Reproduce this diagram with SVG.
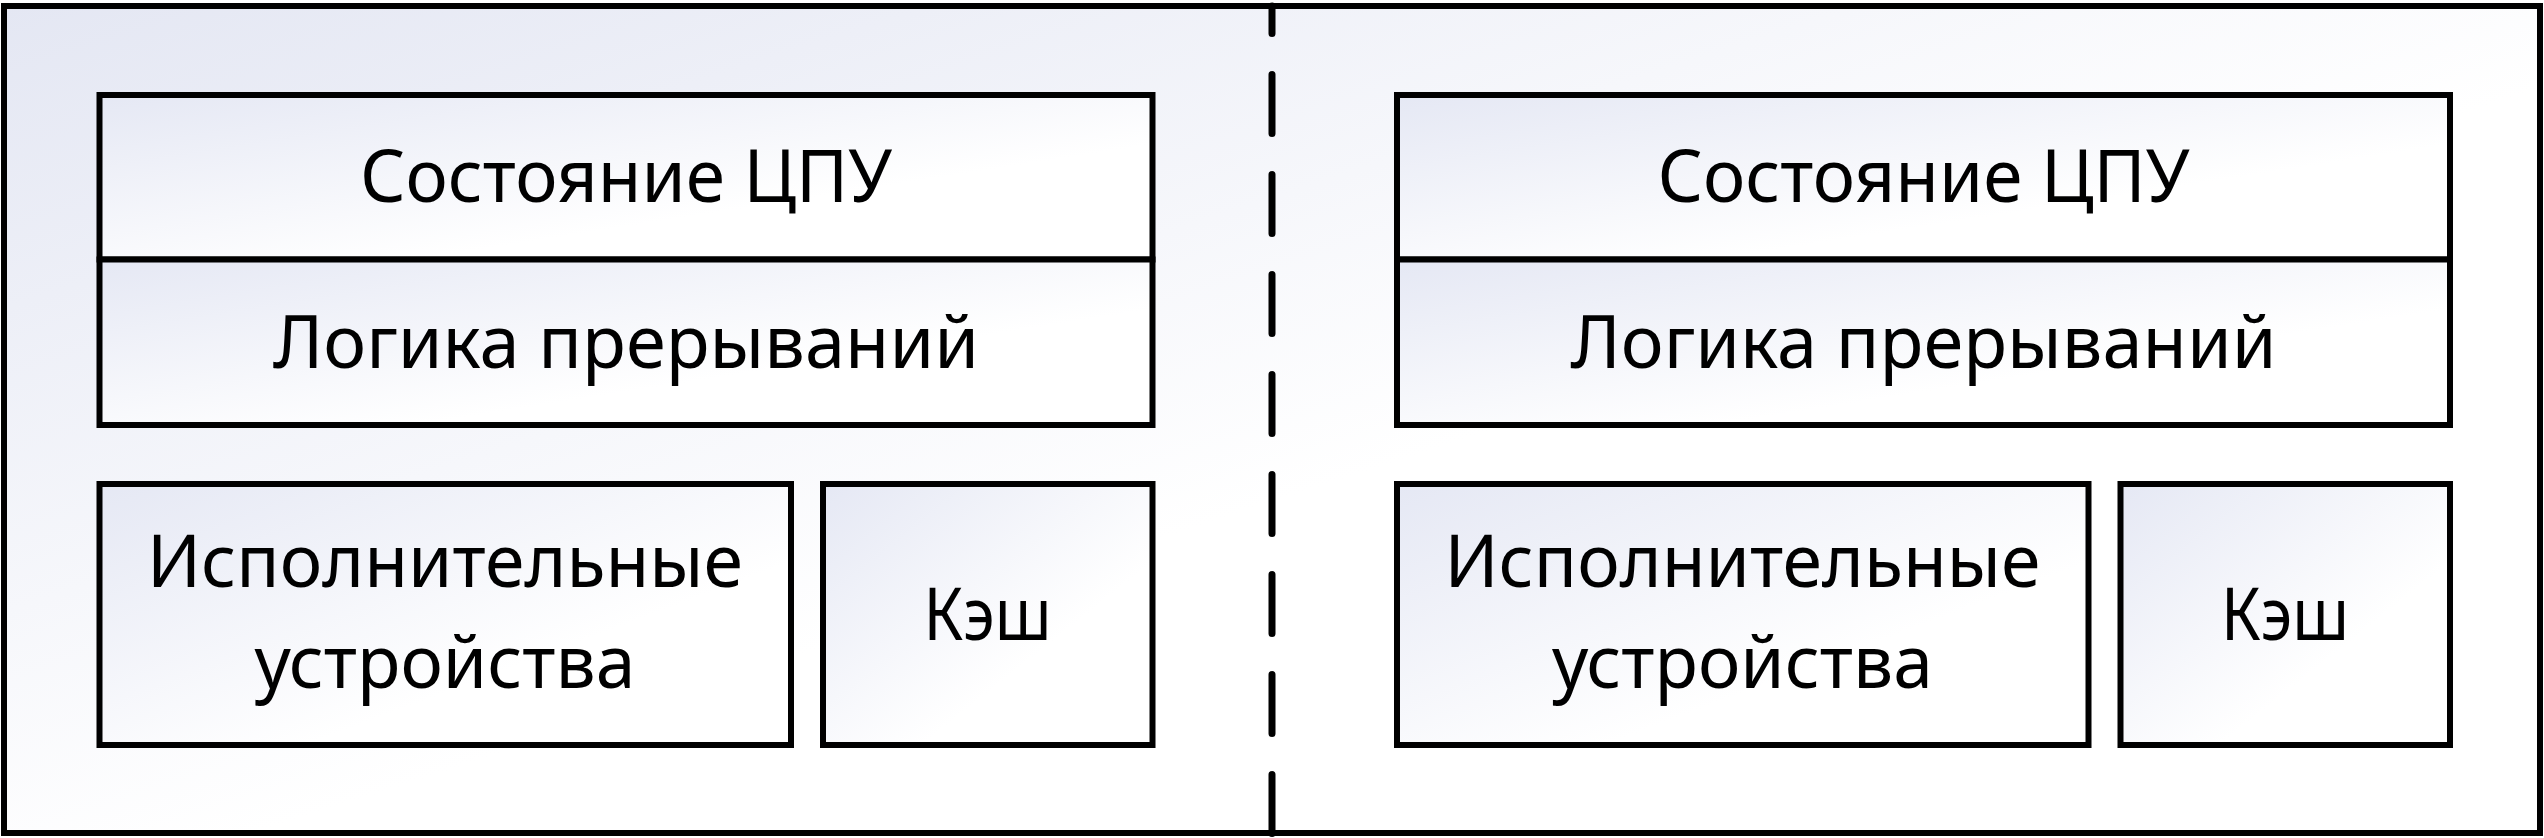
<svg xmlns="http://www.w3.org/2000/svg" width="2544" height="838" viewBox="0 0 2544 838">
<defs>
<linearGradient id="gOuter" x1="0" y1="0" x2="1" y2="1">
<stop offset="0" stop-color="#e4e7f3"/>
<stop offset="0.55" stop-color="#ffffff"/>
</linearGradient>
<linearGradient id="gBox" x1="0" y1="0" x2="1" y2="1">
<stop offset="0" stop-color="#e5e8f4"/>
<stop offset="0.65" stop-color="#ffffff"/>
</linearGradient>
</defs>
<style>
.box{fill:url(#gBox);stroke:#000;stroke-width:6}
.outer{fill:url(#gOuter);stroke:#000;stroke-width:6}
.lbl{font-family:"Noto Sans","Open Sans","DejaVu Sans",sans-serif;font-size:73px;fill:#000;text-anchor:middle}
.dash{fill:none;stroke:#000;stroke-width:7;stroke-linecap:round;stroke-dasharray:59 41;stroke-dashoffset:31.5}
</style>
<rect class="outer" x="4" y="6" width="2536" height="827"/>
<g id="connectors">
<path class="dash" d="M1272 6 V834"/>
</g>
<g id="left-state">
<rect class="box" x="99.5" y="95" width="1053" height="164.5"/>
<text class="lbl" x="626" y="202" textLength="532" lengthAdjust="spacingAndGlyphs">Состояние ЦПУ</text>
</g>
<g id="left-interrupt">
<rect class="box" x="99.5" y="259.5" width="1053" height="165.5"/>
<text class="lbl" x="626" y="368" textLength="706" lengthAdjust="spacingAndGlyphs">Логика прерываний</text>
</g>
<g id="left-exec">
<rect class="box" x="99.5" y="484" width="691.5" height="261"/>
<text class="lbl" x="445" y="587" textLength="596" lengthAdjust="spacingAndGlyphs">Исполнительные</text>
<text class="lbl" x="445" y="688" textLength="381" lengthAdjust="spacingAndGlyphs">устройства</text>
</g>
<g id="left-cache">
<rect class="box" x="823" y="484" width="329.5" height="261"/>
<text class="lbl" x="987.5" y="640" textLength="128" lengthAdjust="spacingAndGlyphs">Кэш</text>
</g>
<g id="right-state">
<rect class="box" x="1397" y="95" width="1053" height="164.5"/>
<text class="lbl" x="1923.5" y="202" textLength="532" lengthAdjust="spacingAndGlyphs">Состояние ЦПУ</text>
</g>
<g id="right-interrupt">
<rect class="box" x="1397" y="259.5" width="1053" height="165.5"/>
<text class="lbl" x="1923.5" y="368" textLength="706" lengthAdjust="spacingAndGlyphs">Логика прерываний</text>
</g>
<g id="right-exec">
<rect class="box" x="1397" y="484" width="691.5" height="261"/>
<text class="lbl" x="1742.5" y="587" textLength="596" lengthAdjust="spacingAndGlyphs">Исполнительные</text>
<text class="lbl" x="1742.5" y="688" textLength="381" lengthAdjust="spacingAndGlyphs">устройства</text>
</g>
<g id="right-cache">
<rect class="box" x="2120.5" y="484" width="329.5" height="261"/>
<text class="lbl" x="2285" y="640" textLength="128" lengthAdjust="spacingAndGlyphs">Кэш</text>
</g>
</svg>
